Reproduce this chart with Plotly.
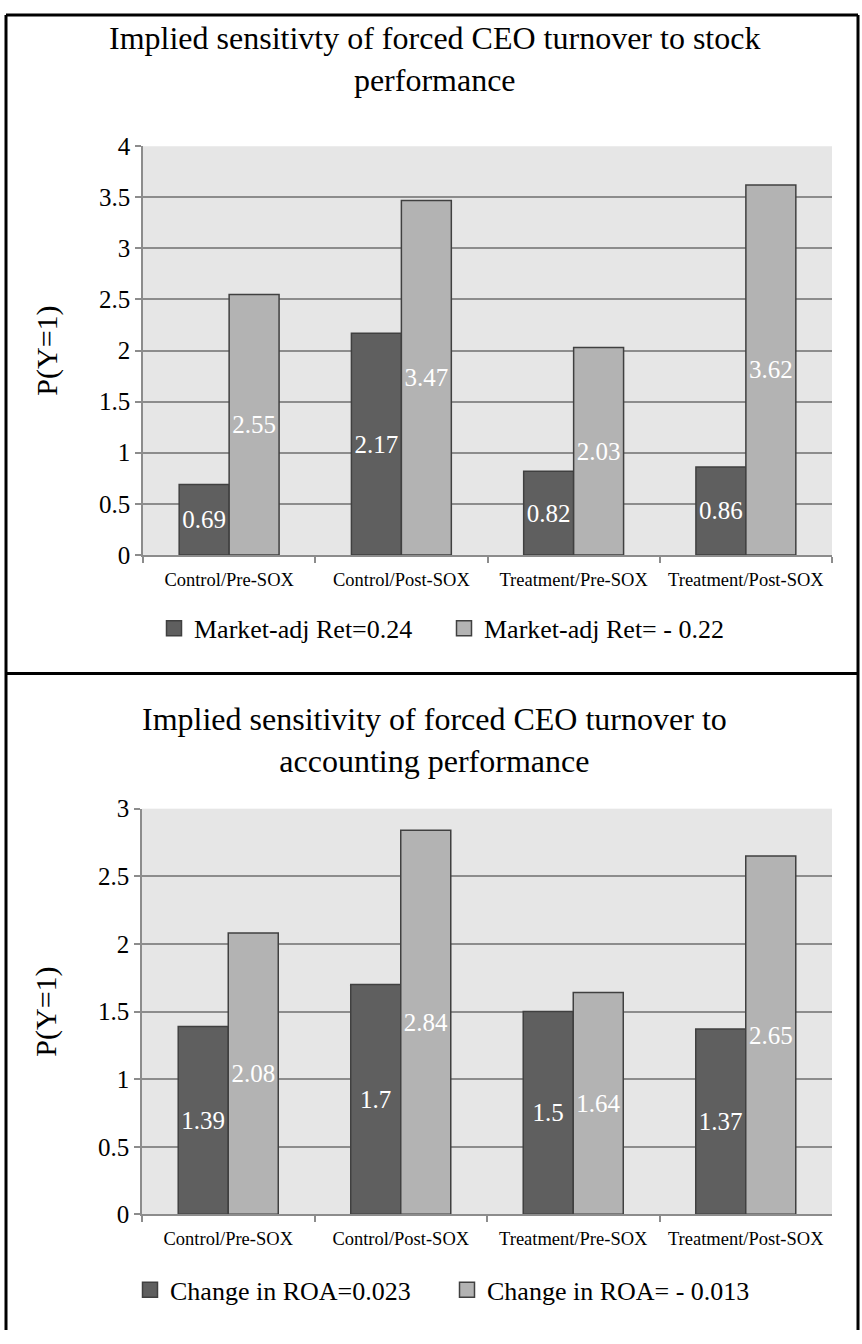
import plotly.graph_objects as go

# ---- data -----------------------------------------------------------------
categories = ["Control/Pre-SOX", "Control/Post-SOX",
              "Treatment/Pre-SOX", "Treatment/Post-SOX"]

stock_series = ["Market-adj Ret=0.24", "Market-adj Ret= - 0.22"]
stock_high = [0.69, 2.17, 0.82, 0.86]
stock_low = [2.55, 3.47, 2.03, 3.62]

roa_series = ["Change in ROA=0.023", "Change in ROA= - 0.013"]
roa_high = [1.39, 1.7, 1.5, 1.37]
roa_low = [2.08, 2.84, 1.64, 2.65]

stock_title = "Implied sensitivty of forced CEO turnover to stock<br>performance"
roa_title = "Implied sensitivity of forced CEO turnover to<br>accounting performance"
y_title = "P(Y=1)"

# ---- styling ----------------------------------------------------------------
W, H = 862, 1344
SERIF = "Liberation Serif"
DARK = "#5f5f5f"
LIGHT = "#b3b3b3"
EDGE = "#404040"
GRID = "#8c8c8c"
PLOT_BG = "#e6e6e6"


def px_x(px):
    return px / W


def px_y(py):
    return 1 - py / H


def bar(name, vals, color, xa, ya):
    return go.Bar(
        x=categories, y=vals, name=name, showlegend=False,
        text=[f"{v:g}" for v in vals],
        textposition="inside", insidetextanchor="middle",
        textangle=0, constraintext="none",
        textfont=dict(family=SERIF, size=25, color="white"),
        marker=dict(color=color, line=dict(color=EDGE, width=1.5)),
        xaxis=xa, yaxis=ya, hoverinfo="skip",
    )


def legend_key(name, color, xa, ya, legend):
    # square legend swatch, slightly larger than the default bar key
    return go.Scatter(
        x=[None], y=[None], name=name, mode="markers",
        marker=dict(symbol="square", size=15, color=color,
                    line=dict(color=EDGE, width=1.5)),
        xaxis=xa, yaxis=ya, legend=legend, hoverinfo="skip",
    )


fig = go.Figure()
fig.add_trace(bar(stock_series[0], stock_high, DARK, "x", "y"))
fig.add_trace(bar(stock_series[1], stock_low, LIGHT, "x", "y"))
fig.add_trace(bar(roa_series[0], roa_high, DARK, "x2", "y2"))
fig.add_trace(bar(roa_series[1], roa_low, LIGHT, "x2", "y2"))
fig.add_trace(legend_key(stock_series[0], DARK, "x", "y", "legend"))
fig.add_trace(legend_key(stock_series[1], LIGHT, "x", "y", "legend"))
fig.add_trace(legend_key(roa_series[0], DARK, "x2", "y2", "legend2"))
fig.add_trace(legend_key(roa_series[1], LIGHT, "x2", "y2", "legend2"))

line_style = dict(showline=True, linecolor=GRID, linewidth=1.5,
                  ticks="outside", ticklen=6, tickcolor=GRID, tickwidth=1.5)


def xaxis(domain, anchor):
    return dict(domain=domain, anchor=anchor, type="category",
                categoryorder="array", categoryarray=categories,
                tickson="boundaries", showgrid=False, fixedrange=True,
                ticklabelstandoff=7,
                tickfont=dict(family=SERIF, size=18.5, color="black"),
                **line_style)


def yaxis(domain, anchor, top):
    return dict(domain=domain, anchor=anchor, range=[0, top],
                tick0=0, dtick=0.5, showgrid=True, gridcolor=GRID,
                gridwidth=1.5, zeroline=False, fixedrange=True,
                tickfont=dict(family=SERIF, size=25, color="black"),
                title=dict(text=y_title, standoff=32,
                           font=dict(family=SERIF, size=30, color="black")),
                **line_style)


legend_style = dict(orientation="h", yanchor="middle", xanchor="left",
                    bgcolor="rgba(0,0,0,0)", traceorder="normal",
                    font=dict(family=SERIF, size=26, color="black"))

fig.update_layout(
    width=W, height=H,
    margin=dict(l=0, r=0, t=0, b=0),
    paper_bgcolor="white", plot_bgcolor=PLOT_BG,
    barmode="group", bargap=0.42, bargroupgap=0,
    font=dict(family=SERIF, color="black"),
    xaxis=xaxis([px_x(143), px_x(832)], "y"),
    yaxis=yaxis([px_y(553), px_y(136)], "x", 4),
    xaxis2=xaxis([px_x(142), px_x(832)], "y2"),
    yaxis2=yaxis([px_y(1226), px_y(812)], "x2", 3),
    legend=dict(x=px_x(154), y=px_y(628), entrywidth=245, **legend_style),
    legend2=dict(x=px_x(130), y=px_y(1303), entrywidth=272, **legend_style),
    annotations=[
        dict(text=stock_title, x=px_x(434), y=px_y(47), xref="paper",
             yref="paper", showarrow=False, xanchor="center",
             yanchor="middle", font=dict(family=SERIF, size=32)),
        dict(text=roa_title, x=px_x(434), y=px_y(742), xref="paper",
             yref="paper", showarrow=False, xanchor="center",
             yanchor="middle", font=dict(family=SERIF, size=32)),
    ],
    shapes=[
        dict(type="line", xref="paper", yref="paper",
             x0=px_x(6), x1=px_x(858), y0=px_y(2), y1=px_y(2),
             line=dict(color="black", width=3)),
        dict(type="line", xref="paper", yref="paper",
             x0=px_x(6), x1=px_x(858), y0=px_y(674), y1=px_y(674),
             line=dict(color="black", width=3)),
        dict(type="line", xref="paper", yref="paper",
             x0=px_x(6), x1=px_x(6), y0=px_y(2), y1=0,
             line=dict(color="black", width=3)),
        dict(type="line", xref="paper", yref="paper",
             x0=px_x(858), x1=px_x(858), y0=px_y(2), y1=0,
             line=dict(color="black", width=3)),
    ],
)

fig.write_html("out.html")
